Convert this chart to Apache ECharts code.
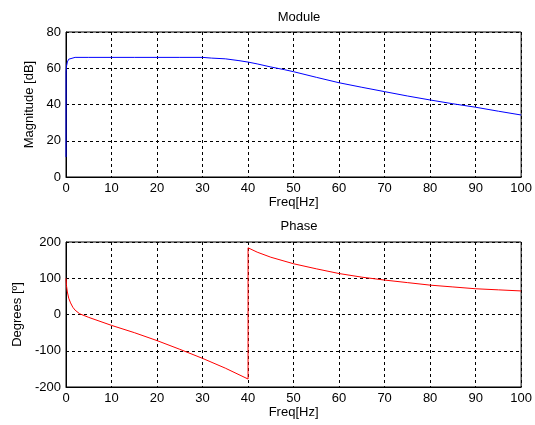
<!DOCTYPE html>
<html>
<head>
<meta charset="utf-8">
<script src="https://cdn.jsdelivr.net/npm/echarts@6/dist/echarts.min.js"></script>
<style>
html,body{margin:0;padding:0;background:#fff;}
#chart{width:535px;height:425px;}
</style>
</head>
<body>
<div id="chart"></div>
<script>
// Module (magnitude) curve
const magFreq = [0, 0.02, 0.1, 0.3, 0.6, 1, 2, 5, 10, 15, 20, 25, 30, 32, 35, 38, 40, 42, 45, 48, 50, 55, 60, 65, 70, 75, 80, 85, 90, 95, 100];
const magDb   = [11, 58, 61, 63.5, 65, 65.8, 66, 66, 66, 66, 66, 66, 66, 65.6, 65.2, 64.2, 63.4, 62.4, 60.7, 59.2, 58.1, 55, 52, 49.5, 47.1, 44.7, 42.5, 40.4, 38.5, 36.3, 34.2];
// Phase curve
const phaseFreq = [0, 0.1, 0.3, 0.6, 1, 1.5, 2, 3, 5, 10, 15, 20, 25, 30, 35, 40, 40, 42, 45, 50, 55, 60, 65, 70, 75, 80, 85, 90, 95, 100];
const phaseDeg  = [100, 80, 62, 45, 32, 20, 12, 2, -8, -30, -50, -72, -96, -121, -148, -178, 184, 172, 158, 140, 126, 113, 103, 95, 88, 81, 76, 71, 68, 65];
// Axis ticks
const freqTicks = {min: 0, max: 100, interval: 10};
const magTicks = {min: 0, max: 80, interval: 20};
const phaseTicks = {min: -200, max: 200, interval: 100};
const titles = ['Module', 'Phase'];
const xName = 'Freq[Hz]';
const yNames = ['Magnitude [dB]', 'Degrees [º]'];

const font = 'Arial, "Liberation Sans", sans-serif';
const txt = {color: '#000', fontFamily: font, fontSize: 13};
const pairs = (xs, ys) => xs.map((x, i) => [x, ys[i]]);

function xAxis(gi) {
  return {
    type: 'value', gridIndex: gi, min: freqTicks.min, max: freqTicks.max, interval: freqTicks.interval,
    name: xName, nameLocation: 'middle', nameGap: 17, nameTextStyle: txt,
    axisLine: {show: true, onZero: false, lineStyle: {color: '#000', width: 1}},
    axisTick: {show: false},
    axisLabel: Object.assign({margin: 5}, txt),
    splitLine: {show: true, lineStyle: {color: '#000', width: 1, type: [3, 3]}}
  };
}
function yAxis(gi, t, name, gap) {
  return {
    type: 'value', gridIndex: gi, min: t.min, max: t.max, interval: t.interval,
    name: name, nameLocation: 'middle', nameGap: gap, nameTextStyle: txt,
    axisLine: {show: true, onZero: false, lineStyle: {color: '#000', width: 1}},
    axisTick: {show: false},
    axisLabel: Object.assign({margin: 5}, txt),
    splitLine: {show: true, lineStyle: {color: '#000', width: 1, type: [3, 3]}}
  };
}

const chart = echarts.init(document.getElementById('chart'), null, {renderer: 'canvas'});
chart.setOption({
  backgroundColor: '#fff',
  animation: false,
  title: [
    {text: titles[0], left: 294, top: 6, textAlign: 'center', textStyle: Object.assign({fontWeight: 'normal'}, txt)},
    {text: titles[1], left: 294, top: 215, textAlign: 'center', textStyle: Object.assign({fontWeight: 'normal'}, txt)}
  ],
  grid: [
    {left: 66, right: 13, top: 32, height: 145, show: true, borderColor: '#000', borderWidth: 1, backgroundColor: 'transparent'},
    {left: 66, right: 13, top: 242, height: 145, show: true, borderColor: '#000', borderWidth: 1, backgroundColor: 'transparent'}
  ],
  xAxis: [xAxis(0), xAxis(1)],
  yAxis: [yAxis(0, magTicks, yNames[0], 29), yAxis(1, phaseTicks, yNames[1], 39)],
  series: [
    {type: 'line', xAxisIndex: 0, yAxisIndex: 0, data: pairs(magFreq, magDb), showSymbol: false, smooth: false,
     lineStyle: {color: '#0000ff', width: 1}, clip: true},
    {type: 'line', xAxisIndex: 1, yAxisIndex: 1, data: pairs(phaseFreq, phaseDeg), showSymbol: false, smooth: false,
     lineStyle: {color: '#ff0000', width: 1}, clip: true}
  ]
});
</script>
</body>
</html>
